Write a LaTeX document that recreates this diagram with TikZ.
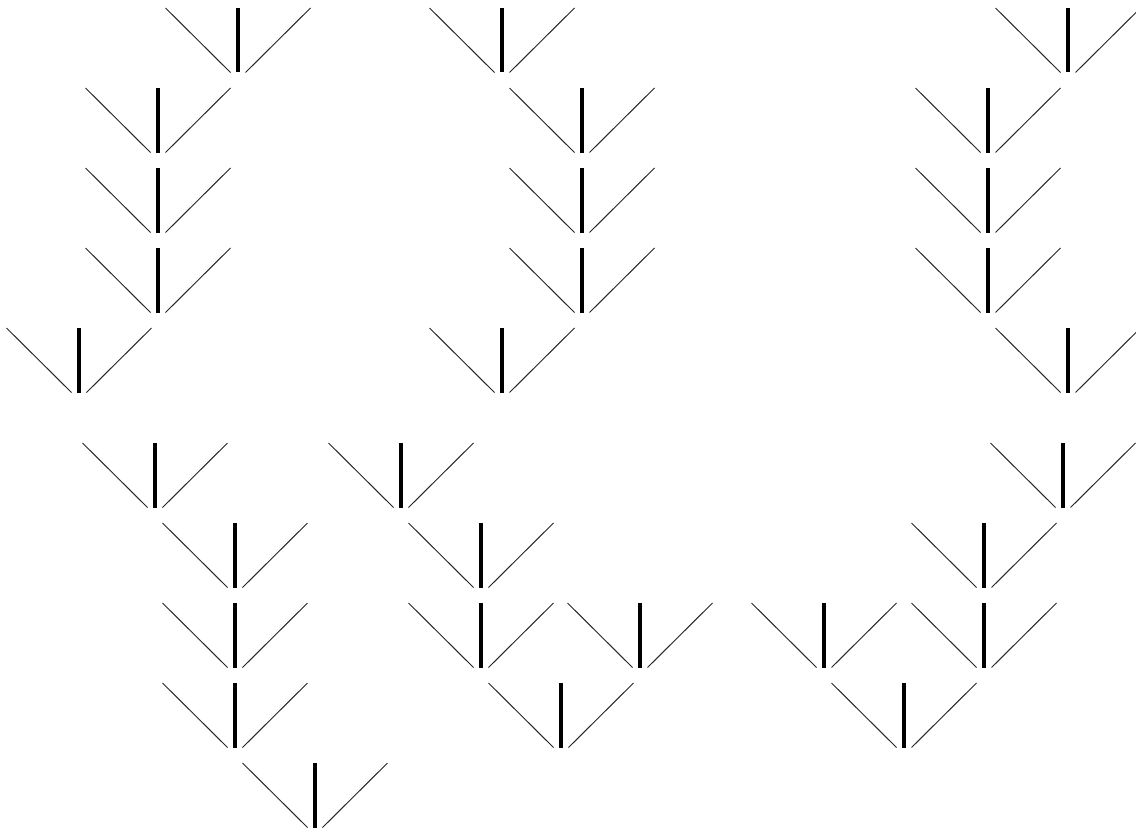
\documentclass[tikz,border=0pt]{standalone}
\usepackage{tikz}

\tikzset{
  stem/.style={line width=2.2pt,black},
  twig/.style={line width=0.7pt,black!85},
  vee/.pic={
    \draw[stem] (0,0) -- (0,-64.5);
    \draw[twig] (-7.5,0) -- (-72.5,-64.5);
    \draw[twig] (7.5,0) -- (72.5,-64.5);
  }
}

\begin{document}
\begin{tikzpicture}[x=0.025cm,y=-0.025cm]
\useasboundingbox (0,0) rectangle (1136,828);

% Top block
% Row 1
\pic at (238,72.5) {vee};
\pic at (502,72.5) {vee};
\pic at (1068,72.5) {vee};
% Rows 2-4
\foreach \r in {152.5,232.5,312.5}{
  \pic at (158,\r) {vee};
  \pic at (582,\r) {vee};
  \pic at (988,\r) {vee};
}
% Row 5
\pic at (79,392.5) {vee};
\pic at (502,392.5) {vee};
\pic at (1068,392.5) {vee};

% Bottom block
% Row 6
\pic at (155,507.5) {vee};
\pic at (401,507.5) {vee};
\pic at (1063,507.5) {vee};
% Row 7
\pic at (235,587.5) {vee};
\pic at (481,587.5) {vee};
\pic at (984,587.5) {vee};
% Row 8
\pic at (235,667.5) {vee};
\pic at (481,667.5) {vee};
\pic at (640,667.5) {vee};
\pic at (824,667.5) {vee};
\pic at (984,667.5) {vee};
% Row 9
\pic at (235,747.5) {vee};
\pic at (561,747.5) {vee};
\pic at (904,747.5) {vee};
% Row 10
\pic at (315,827.5) {vee};
\end{tikzpicture}
\end{document}
